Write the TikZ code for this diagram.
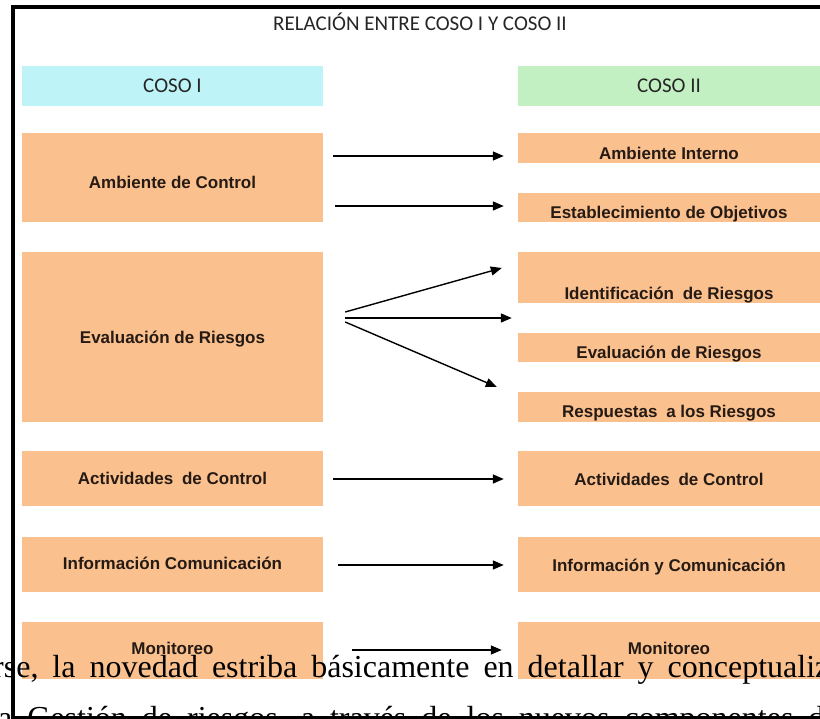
\documentclass[tikz,border=0pt]{standalone}
\usepackage{fontspec}
\setmainfont{Liberation Serif}
\newfontfamily\labfont{Liberation Sans}
\newfontfamily\calfont{Carlito}
\usetikzlibrary{arrows.meta,calc}
\definecolor{boxor}{RGB}{250,193,143}
\definecolor{cosoIc}{RGB}{190,243,248}
\definecolor{cosoIIc}{RGB}{195,240,195}
\definecolor{labtxt}{RGB}{38,26,20}
\begin{document}
\begin{tikzpicture}[x=1pt,y=-1pt,
  lbox/.style={fill=boxor, draw=none, inner sep=0pt, minimum width=301pt, text depth=0pt,
    font=\labfont\bfseries\fontsize{17}{17}\selectfont, text=labtxt},
  rbox/.style={lbox, minimum width=302pt},
  head/.style={draw=none, inner sep=0pt, minimum height=40pt, text height=13.5pt, text depth=0pt,
    font=\calfont\fontsize{21}{21}\selectfont, text=black!85},
  arr/.style={-{Triangle[length=11pt,width=9pt]}, line width=1.4pt, black},
  bodytxt/.style={inner sep=0pt, anchor=base west, font=\fontsize{32}{32}\selectfont, text=black}
]
\useasboundingbox (0,0) rectangle (820,719);
\fill[white] (0,0) rectangle (820,719);

% title
\node[inner sep=0pt, text height=13.5pt, text depth=0pt, font=\calfont\fontsize{21}{21}\selectfont, text=black!85] (title) at (420,24) {RELACIÓN ENTRE COSO I Y COSO II};

% headers
\node[head, fill=cosoIc, minimum width=301pt] (c1) at (172.5,86) {COSO I};
\node[head, fill=cosoIIc, minimum width=302pt] (c2) at (669,86) {COSO II};

% left column
\node[lbox, minimum height=89pt, text height=21.2pt] (lamb) at (172.5,177.5) {Ambiente de Control};
\node[lbox, minimum height=170pt, text height=12.2pt] (leval) at (172.5,337) {Evaluación de Riesgos};
\node[lbox, minimum height=55pt, text height=12.2pt] (lact) at (172.5,478.5) {Actividades\hspace{4pt} de Control};
\node[lbox, minimum height=55pt, text height=9.2pt] (linfo) at (172.5,564.5) {Información Comunicación};
\node[lbox, minimum height=57pt, text height=7.2pt] (lmon) at (172.5,650.5) {Monitoreo};

% right column
\node[rbox, minimum height=30pt, text height=22.2pt] (rai) at (669,148) {Ambiente Interno};
\node[rbox, minimum height=29pt, text height=21.2pt] (rest) at (669,207.5) {Establecimiento de Objetivos};
\node[rbox, minimum height=51pt, text height=43.2pt] (rid) at (669,277.5) {Identificación\hspace{4pt} de Riesgos};
\node[rbox, minimum height=29pt, text height=21.2pt] (rev) at (669,347.5) {Evaluación de Riesgos};
\node[rbox, minimum height=30pt, text height=20.2pt] (rres) at (669,407) {Respuestas\hspace{4pt} a los Riesgos};
\node[rbox, minimum height=55pt, text height=13.2pt] (ract) at (669,478.5) {Actividades\hspace{4pt} de Control};
\node[rbox, minimum height=55pt, text height=13.2pt] (rinfo) at (669,564.5) {Información y Comunicación};
\node[rbox, minimum height=57pt, text height=7.2pt] (rmon) at (669,650.5) {Monitoreo};

% arrows
\draw[arr] ($(lamb.east)+(10,-21.5)$) -- ($(rai.west)+(-14,8)$);
\draw[arr] ($(lamb.east)+(12,28.5)$) -- ($(rest.west)+(-14,-1.5)$);
\draw[arr] ($(leval.east)+(22,-25)$) -- ($(rid.west)+(-16,-9.5)$);
\draw[arr] ($(leval.east)+(22,-19)$) -- ($(rid.west)+(-6,40.5)$);
\draw[arr] ($(leval.east)+(22,-15)$) -- ($(rres.west)+(-21,-20)$);
\draw[arr] ($(lact.east)+(10,0.5)$) -- ($(ract.west)+(-14,0.5)$);
\draw[arr] ($(linfo.east)+(15,0.5)$) -- ($(rinfo.west)+(-14,0.5)$);
\draw[arr] ($(lmon.east)+(29,-0.5)$) -- ($(rmon.west)+(-16,-0.5)$);

% overlapping body text of the page
\node[bodytxt] (body1) at (-7,677) {rse,\hspace{14pt}la\hspace{14pt}novedad\hspace{14pt}estriba\hspace{14pt}básicamente\hspace{14pt}en\hspace{14pt}detallar\hspace{14pt}y\hspace{14pt}conceptualiz};
\node[bodytxt] (body2) at (-2,728) {a\hspace{15pt}Gestión\hspace{15pt}de\hspace{15pt}riesgos,\hspace{15pt}a\hspace{15pt}través\hspace{15pt}de\hspace{15pt}los\hspace{15pt}nuevos\hspace{15pt}componentes\hspace{15pt}d};

% frame
\draw[line width=3.5pt] (13,719) -- (13,7) -- (820,7);
\draw[line width=2.5pt] (12,717.5) -- (820,717.5);
\end{tikzpicture}
\end{document}
